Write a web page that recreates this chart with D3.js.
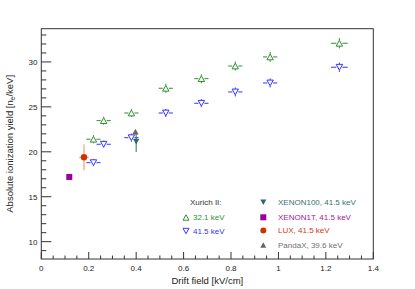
<!DOCTYPE html>
<html><head><meta charset="utf-8">
<script src="https://cdn.jsdelivr.net/npm/d3@7"></script>
<style>body{margin:0;background:#fff}svg{display:block}text{font-family:"Liberation Sans",Arial,sans-serif}</style>
</head><body>
<svg id="c" width="415" height="289"></svg>
<script>
// Xurich II data (drift field in kV/cm)
const fields = [0.22, 0.263, 0.38, 0.525, 0.675, 0.818, 0.965, 1.257];
const yield32 = [21.40, 23.47, 24.32, 27.07, 28.14, 29.55, 30.56, 32.08];
const yield41 = [18.79, 20.84, 21.57, 24.32, 25.40, 26.66, 27.66, 29.41];
const fieldErr = [0.03, 0.03, 0.03, 0.03, 0.03, 0.03, 0.03, 0.035];
const yieldErr32 = [0.45, 0.45, 0.45, 0.5, 0.5, 0.5, 0.55, 0.57];
const yieldErr41 = [0.4, 0.4, 0.45, 0.45, 0.45, 0.5, 0.5, 0.52];
// Other experiments
const xenon100 = {x: 0.4, y: 21.13, ey: 1.15};
const xenon1t = {x: 0.118, y: 17.2};
const lux = {x: 0.18, y: 19.39, ex: 0.02, ey: 1.43};
const pandax = {x: 0.397, y: 22.25};
const xTicks = [0, 0.2, 0.4, 0.6, 0.8, 1, 1.2, 1.4];
const yTicks = [10, 15, 20, 25, 30];

const svg = d3.select("#c");
const L = 41.3, R = 373.3, T = 28.7, B = 259;
const x = d3.scaleLinear().domain([0, 1.4]).range([L, R]);
const y = d3.scaleLinear().domain([8.07, 33.7]).range([B, T]);
const axisCol = "#333";

const cGreen = "#2f8f2f", cBlue = "#3333ff", cTeal = "#2f6a6a", cMag = "#990099", cLux = "#cc3300", cLuxErr = "#e98a6c", cGrey = "#666";

// frame
svg.append("rect").attr("x", L).attr("y", T).attr("width", R - L).attr("height", B - T)
  .attr("fill", "none").attr("stroke", axisCol).attr("stroke-width", 1);

// ticks (ROOT style: inward)
const xMinor = d3.range(0, 1.4001, 0.05);
const xa = svg.append("g");
xMinor.forEach(v => {
  const major = xTicks.some(t => Math.abs(t - v) < 1e-6);
  xa.append("line").attr("x1", x(v)).attr("x2", x(v)).attr("y1", B).attr("y2", B - (major ? 7 : 3.5))
    .attr("stroke", axisCol).attr("stroke-width", 1);
});
xTicks.forEach(t => xa.append("text").attr("x", x(t)).attr("y", 271).attr("text-anchor", "middle")
  .attr("font-size", 8).attr("fill", "#222").text(t));
const yMinor = d3.range(9, 34, 1);
const ya = svg.append("g");
yMinor.forEach(v => {
  const major = yTicks.includes(v);
  ya.append("line").attr("x1", L).attr("x2", L + (major ? 10 : 5)).attr("y1", y(v)).attr("y2", y(v))
    .attr("stroke", axisCol).attr("stroke-width", 1);
});
yTicks.forEach(t => ya.append("text").attr("x", 37.5).attr("y", y(t) + 2.9).attr("text-anchor", "end")
  .attr("font-size", 8).attr("fill", "#222").text(t));

// axis titles
svg.append("text").attr("x", (L + R) / 2).attr("y", 283.5).attr("text-anchor", "middle")
  .attr("font-size", 9.5).attr("fill", "#222").text("Drift field [kV/cm]");
const yt = svg.append("text").attr("transform", `translate(12.5,${(T + B) / 2}) rotate(-90)`)
  .attr("text-anchor", "middle").attr("font-size", 9.5).attr("fill", "#222");
yt.append("tspan").text("Absolute ionization yield [n");
yt.append("tspan").attr("font-size", 6.5).attr("dy", 2).text("e");
yt.append("tspan").attr("dy", -2).text("/keV]");

const g = svg.append("g");
function errBars(cx, cy, ex, ey, col, gap) {
  const px = x(cx), py = y(cy);
  const dx = ex ? x(cx + ex) - px : 0, dy = ey ? py - y(cy + ey) : 0;
  if (dx > gap) {
    g.append("line").attr("x1", px - dx).attr("x2", px - gap).attr("y1", py).attr("y2", py).attr("stroke", col);
    g.append("line").attr("x1", px + gap).attr("x2", px + dx).attr("y1", py).attr("y2", py).attr("stroke", col);
  }
  if (dy > gap) {
    g.append("line").attr("x1", px).attr("x2", px).attr("y1", py - dy).attr("y2", py - gap).attr("stroke", col);
    g.append("line").attr("x1", px).attr("x2", px).attr("y1", py + gap).attr("y2", py + dy).attr("stroke", col);
  }
}
const triUp = s => `M0,${-s * 0.9}L${s},${s * 0.9}L${-s},${s * 0.9}Z`;
const triDn = s => `M0,${s * 0.9}L${s},${-s * 0.9}L${-s},${-s * 0.9}Z`;

// Xurich II series
fields.forEach((f, i) => {
  errBars(f, yield32[i], fieldErr[i], yieldErr32[i], cGreen, 3);
  errBars(f, yield41[i], fieldErr[i], yieldErr41[i], cBlue, 3);
});
fields.forEach((f, i) => {
  g.append("path").attr("d", triUp(3.2)).attr("transform", `translate(${x(f)},${y(yield32[i])})`)
    .attr("fill", "none").attr("stroke", cGreen).attr("stroke-width", 1);
  g.append("path").attr("d", triDn(3.2)).attr("transform", `translate(${x(f)},${y(yield41[i])})`)
    .attr("fill", "none").attr("stroke", cBlue).attr("stroke-width", 1);
});

// XENON100
errBars(xenon100.x, xenon100.y, 0, xenon100.ey, cTeal, 0);
g.append("path").attr("d", triDn(3.2)).attr("transform", `translate(${x(xenon100.x)},${y(xenon100.y)})`).attr("fill", cTeal);
// PandaX
g.append("path").attr("d", triUp(3.2)).attr("transform", `translate(${x(pandax.x)},${y(pandax.y)})`).attr("fill", cGrey);
// XENON1T
g.append("rect").attr("x", x(xenon1t.x) - 3).attr("y", y(xenon1t.y) - 3).attr("width", 6).attr("height", 6).attr("fill", cMag);
// LUX
errBars(lux.x, lux.y, lux.ex, lux.ey, cLuxErr, 0);
g.append("circle").attr("cx", x(lux.x)).attr("cy", y(lux.y)).attr("r", 3.2).attr("fill", cLux);

// legend
const lg = svg.append("g").attr("font-size", 8);
lg.append("text").attr("x", 190).attr("y", 205).attr("fill", "#333").text("Xurich II:");
const leftItems = [
  {t: "32.1 keV", c: cGreen, d: triUp(3), y: 217.5},
  {t: "41.5 keV", c: cBlue, d: triDn(3), y: 231}
];
leftItems.forEach(it => {
  lg.append("path").attr("d", it.d).attr("transform", `translate(186,${it.y})`).attr("fill", "none").attr("stroke", it.c);
  lg.append("text").attr("x", 193).attr("y", it.y + 2.9).attr("fill", it.c).text(it.t);
});
const rightItems = [
  {t: "XENON100, 41.5 keV", c: cTeal, tc: "#3a7070", y: 202.3, k: "dn"},
  {t: "XENON1T, 41.5 keV", c: cMag, tc: "#a020a0", y: 217.3, k: "sq"},
  {t: "LUX, 41.5 keV", c: cLux, tc: "#d04010", y: 230.5, k: "ci"},
  {t: "PandaX, 39.6 keV", c: cGrey, tc: "#707070", y: 245, k: "up"}
];
rightItems.forEach(it => {
  const mx = 263.3;
  if (it.k === "dn") lg.append("path").attr("d", triDn(3)).attr("transform", `translate(${mx},${it.y})`).attr("fill", it.c);
  if (it.k === "up") lg.append("path").attr("d", triUp(3)).attr("transform", `translate(${mx},${it.y})`).attr("fill", it.c);
  if (it.k === "sq") lg.append("rect").attr("x", mx - 3).attr("y", it.y - 3).attr("width", 6).attr("height", 6).attr("fill", it.c);
  if (it.k === "ci") lg.append("circle").attr("cx", mx).attr("cy", it.y).attr("r", 3).attr("fill", it.c);
  lg.append("text").attr("x", 278).attr("y", it.y + 2.9).attr("fill", it.tc).text(it.t);
});
</script>
</body></html>
